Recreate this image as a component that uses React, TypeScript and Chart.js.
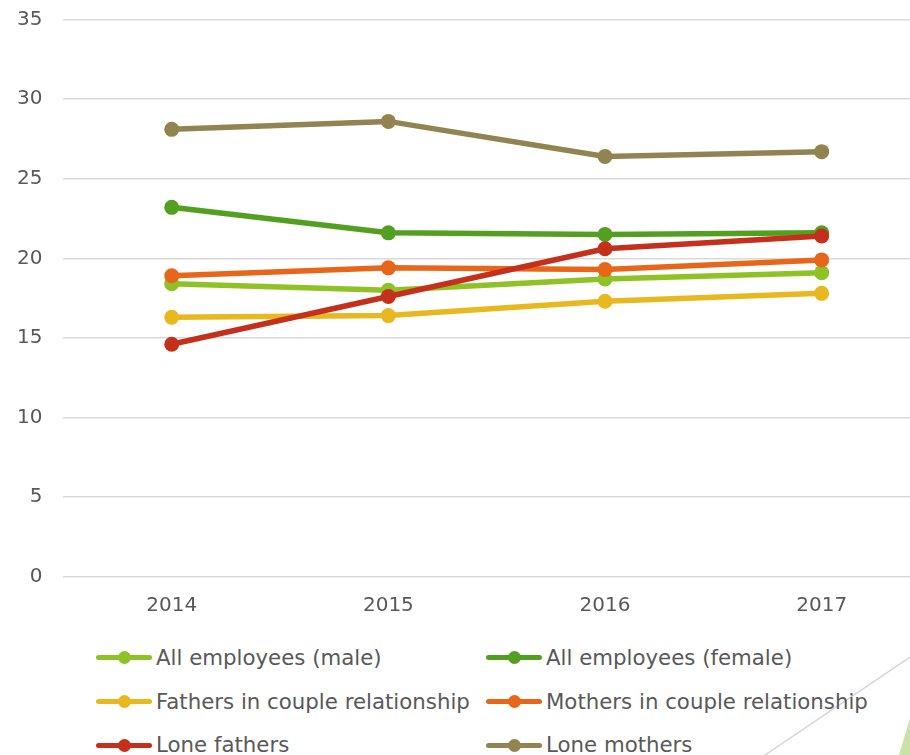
import React, { useEffect, useRef } from "react";
import { Chart, registerables } from "chart.js";

Chart.register(...registerables);

const years = ["2014", "2015", "2016", "2017"];
const seriesNames = [
  "All employees (male)",
  "All employees (female)",
  "Fathers in couple relationship",
  "Mothers in couple relationship",
  "Lone fathers",
  "Lone mothers",
];
const allMale = [18.4, 18.0, 18.7, 19.1];
const allFemale = [23.2, 21.6, 21.5, 21.6];
const fathersCouple = [16.3, 16.4, 17.3, 17.8];
const mothersCouple = [18.9, 19.4, 19.3, 19.9];
const loneFathers = [14.6, 17.6, 20.6, 21.4];
const loneMothers = [28.1, 28.6, 26.4, 26.7];
const seriesColors = ["#8fc225", "#53a021", "#e8b81f", "#e8661a", "#c4301b", "#928451"];
const seriesValues = [allMale, allFemale, fathersCouple, mothersCouple, loneFathers, loneMothers];

const FONT = "'DejaVu Sans', sans-serif";
const TEXT = "#595959";

export default function App() {
  const ref = useRef<HTMLCanvasElement | null>(null);
  useEffect(() => {
    if (!ref.current) return;
    const chart = new Chart(ref.current, {
      type: "line",
      data: {
        labels: years,
        datasets: seriesNames.map((name, i) => ({
          label: name,
          data: seriesValues[i],
          borderColor: seriesColors[i],
          backgroundColor: seriesColors[i],
          pointBackgroundColor: seriesColors[i],
          pointBorderColor: seriesColors[i],
          borderWidth: 5.5,
          pointRadius: 7.5,
          pointBorderWidth: 0,
          tension: 0,
          order: 5 - i,
        })),
      },
      options: {
        animation: false,
        responsive: true,
        maintainAspectRatio: false,
        layout: { padding: { top: 19.5, left: 0, right: 10, bottom: 0 } },
        plugins: { legend: { display: false }, tooltip: { enabled: false } },
        scales: {
          x: {
            offset: true,
            grid: { display: false, drawTicks: false },
            border: { display: false },
            ticks: { color: TEXT, font: { family: FONT, size: 20 }, padding: 17 },
            afterFit: (s: any) => {
              s.height = 48.3;
              s.paddingLeft = 0;
              s.paddingRight = 0;
            },
          },
          y: {
            min: 0,
            max: 35,
            ticks: { stepSize: 5, color: TEXT, font: { family: FONT, size: 20 }, padding: 21 },
            grid: { color: "#d9d9d9", lineWidth: 1.6, drawTicks: false },
            border: { display: false },
            afterFit: (s: any) => {
              s.width = 63.4;
              s.paddingTop = 0;
              s.paddingBottom = 0;
            },
          },
        },
      },
    });
    return () => chart.destroy();
  }, []);

  const colLeft = [96, 486];
  const rowCenter = [657.7, 701.5, 745];

  return (
    <div
      style={{
        position: "fixed",
        left: 0,
        top: 0,
        width: 910,
        height: 755,
        overflow: "hidden",
        background: "#ffffff",
        fontFamily: FONT,
      }}
    >
      <svg width={910} height={755} style={{ position: "absolute", left: 0, top: 0 }}>
        <line x1={765} y1={755} x2={910} y2={657} stroke="#d4d4d4" strokeWidth={1.5} />
        <polygon points="899,755 910,718 910,755" fill="#c9e3a6" />
      </svg>
      <div style={{ position: "absolute", left: 0, top: 0, width: 940, height: 625 }}>
        <canvas ref={ref} />
      </div>
      {seriesNames.map((name, i) => {
        const col = i % 2;
        const row = Math.floor(i / 2);
        return (
          <div
            key={name}
            style={{
              position: "absolute",
              left: colLeft[col],
              top: rowCenter[row] - 15,
              height: 30,
              display: "flex",
              alignItems: "center",
              whiteSpace: "nowrap",
            }}
          >
            <div style={{ position: "relative", width: 56, height: 14, marginRight: 4 }}>
              <div
                style={{
                  position: "absolute",
                  left: 0,
                  top: 4.5,
                  width: 56,
                  height: 5,
                  borderRadius: 2.5,
                  background: seriesColors[i],
                }}
              />
              <div
                style={{
                  position: "absolute",
                  left: 22,
                  top: 0.5,
                  width: 13,
                  height: 13,
                  borderRadius: "50%",
                  background: seriesColors[i],
                }}
              />
            </div>
            <span style={{ fontSize: 21.3, color: TEXT, lineHeight: "30px" }}>{name}</span>
          </div>
        );
      })}
    </div>
  );
}
